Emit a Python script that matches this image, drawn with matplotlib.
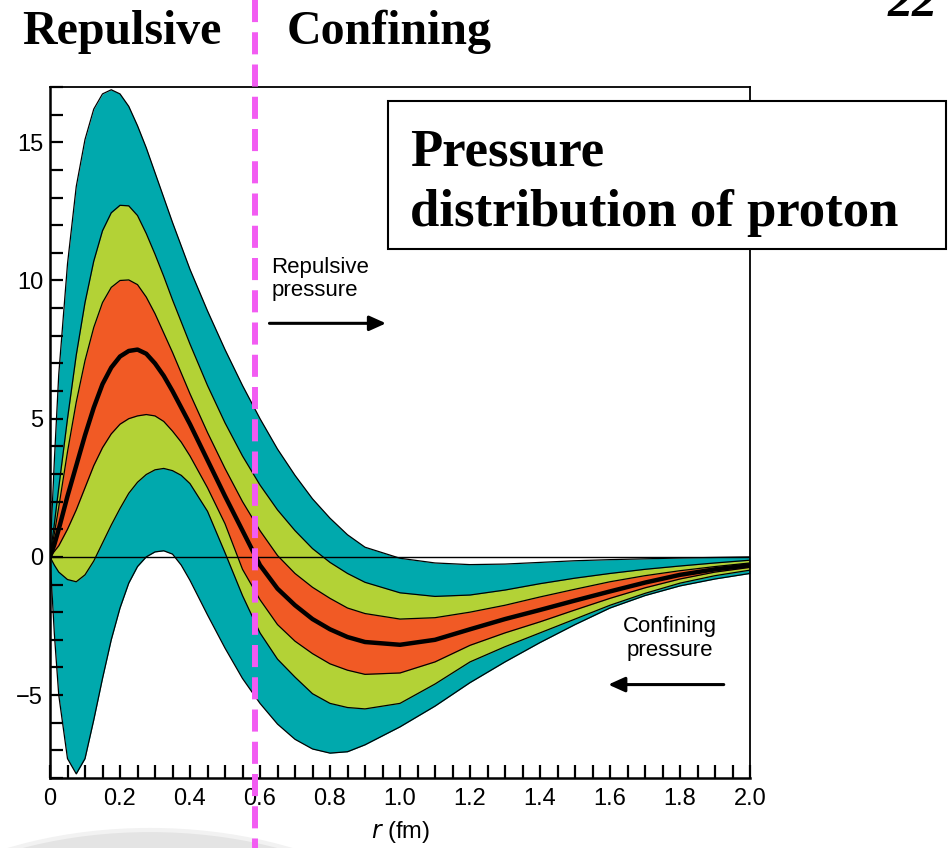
import numpy as np
import matplotlib
matplotlib.use("Agg")
import matplotlib.pyplot as plt
from matplotlib.patches import Rectangle, Ellipse

# radius (fm)
r = [0, 0.0125, 0.025, 0.05, 0.075, 0.1, 0.125, 0.15, 0.175, 0.2, 0.225, 0.25, 0.275,
     0.3, 0.325, 0.35, 0.375, 0.4, 0.45, 0.5, 0.55, 0.6, 0.65, 0.7, 0.75, 0.8, 0.85,
     0.9, 1.0, 1.1, 1.2, 1.3, 1.4, 1.5, 1.6, 1.7, 1.8, 1.9, 2.0]

# band edges (outer -> inner), units of the y axis
upper3 = [0, 3.5, 6.6, 10.6, 13.4, 15.1, 16.2, 16.75, 16.9, 16.75, 16.3, 15.6, 14.8,
          13.9, 13.0, 12.1, 11.25, 10.4, 8.9, 7.5, 6.2, 5.0, 3.9, 2.95, 2.1, 1.4, 0.8,
          0.35, -0.05, -0.22, -0.28, -0.26, -0.2, -0.14, -0.1, -0.07, -0.04, -0.02, 0.0]
upper2 = [0, 1.2, 2.5, 5.0, 7.3, 9.2, 10.7, 11.8, 12.45, 12.72, 12.7, 12.35, 11.7,
          10.95, 10.15, 9.3, 8.5, 7.7, 6.2, 4.85, 3.65, 2.6, 1.7, 0.95, 0.3, -0.2, -0.6,
          -0.92, -1.3, -1.43, -1.38, -1.2, -0.97, -0.77, -0.6, -0.45, -0.33, -0.22, -0.12]
upper1 = [0, 0.85, 1.8, 3.8, 5.6, 7.1, 8.3, 9.2, 9.75, 10.0, 10.02, 9.85, 9.4,
          8.8, 8.1, 7.4, 6.65, 5.9, 4.5, 3.2, 2.0, 0.95, 0.05, -0.6, -1.1, -1.5, -1.85,
          -2.05, -2.25, -2.2, -2.0, -1.75, -1.45, -1.17, -0.9, -0.68, -0.5, -0.35, -0.22]
centre = [0, 0.45, 1.0, 2.2, 3.3, 4.4, 5.4, 6.25, 6.85, 7.25, 7.45, 7.5, 7.35,
          7.0, 6.55, 6.0, 5.4, 4.8, 3.5, 2.2, 0.95, -0.3, -1.15, -1.75, -2.25, -2.62, -2.9,
          -3.08, -3.18, -3.0, -2.62, -2.25, -1.92, -1.58, -1.25, -0.93, -0.65, -0.45, -0.3]
lower1 = [0, 0.2, 0.4, 1.0, 1.7, 2.5, 3.3, 3.95, 4.45, 4.8, 5.0, 5.1, 5.15,
          5.1, 4.9, 4.55, 4.15, 3.65, 2.5, 1.2, -0.45, -1.55, -2.45, -3.05, -3.5, -3.87, -4.1,
          -4.25, -4.2, -3.8, -3.2, -2.75, -2.35, -1.92, -1.5, -1.12, -0.8, -0.55, -0.38]
lower2 = [0, -0.3, -0.55, -0.82, -0.9, -0.65, -0.15, 0.5, 1.15, 1.75, 2.3, 2.7, 2.98,
          3.15, 3.2, 3.12, 2.95, 2.65, 1.65, 0.15, -1.4, -2.75, -3.7, -4.35, -4.95, -5.3, -5.45,
          -5.5, -5.3, -4.6, -3.8, -3.25, -2.75, -2.25, -1.75, -1.32, -0.95, -0.68, -0.48]
lower3 = [0, -2.8, -5.0, -7.3, -7.85, -7.3, -5.9, -4.4, -3.0, -1.85, -0.95, -0.35, 0.0,
          0.18, 0.22, 0.1, -0.3, -0.85, -2.1, -3.3, -4.4, -5.3, -6.05, -6.6, -6.95, -7.1, -7.05,
          -6.8, -6.15, -5.4, -4.55, -3.8, -3.1, -2.45, -1.85, -1.4, -1.05, -0.8, -0.6]

teal = "#00a9ad"
green = "#b3d236"
orange = "#f15a25"
magenta = "#f25cf2"

plt.rcParams["font.family"] = ["Liberation Sans", "DejaVu Sans"]

W, H = 948, 848
def fpx(x, y):
    return x / W, 1 - y / H

fig = plt.figure(figsize=(W / 100, H / 100), dpi=100)

# light grey slide decoration at bottom left
fig.patches.append(Ellipse(fpx(150, 1010), 620 / W, 360 / H, transform=fig.transFigure,
                           facecolor="#e4e4e4", edgecolor="#f2f2f2", lw=3, zorder=0))

ax = fig.add_axes([50 / W, 1 - 778 / H, 700 / W, 691 / H])
ax.fill_between(r, lower3, upper3, color=teal, lw=0)
ax.fill_between(r, lower2, upper2, color=green, lw=0)
ax.fill_between(r, lower1, upper1, color=orange, lw=0)
for edge in [upper3, upper2, upper1, lower1, lower2, lower3]:
    ax.plot(r, edge, color="black", lw=0.9, solid_joinstyle="round")
ax.plot(r, centre, color="black", lw=3.2, solid_joinstyle="round")
ax.axhline(0, color="black", lw=1.0)

ax.set_xlim(0, 2.0)
ax.set_ylim(-8, 17)
ax.set_xticks(np.arange(0, 2.01, 0.2))
ax.set_xticklabels(["0", "0.2", "0.4", "0.6", "0.8", "1.0", "1.2", "1.4", "1.6", "1.8", "2.0"])
ax.set_xticks(np.arange(0, 2.01, 0.05), minor=True)
ax.set_yticks([-5, 0, 5, 10, 15])
ax.set_yticklabels(["\u22125", "0", "5", "10", "15"])
ax.set_yticks(np.arange(-8, 17.1, 1), minor=True)
ax.tick_params(which="both", direction="in", length=9.5, width=1.6, labelsize=17,
               top=False, right=False)
ax.tick_params(axis="x", pad=7)
ax.tick_params(axis="y", pad=5)
for s in ["left", "bottom"]:
    ax.spines[s].set_linewidth(1.8)
for s in ["top", "right"]:
    ax.spines[s].set_linewidth(1.3)
ax.set_xlabel("$\\it{r}$ (fm)", fontsize=17, labelpad=7)

ax.text(0.632, 10.85, "Repulsive\npressure", fontsize=16, va="top", ha="left",
        linespacing=1.15)
ax.annotate("", xy=(0.96, 8.45), xytext=(0.627, 8.45),
            arrowprops=dict(arrowstyle="-|>,head_length=1.0,head_width=0.45", lw=2.2,
                            color="black", shrinkA=0, shrinkB=0))
ax.text(1.772, -2.15, "Confining\npressure", fontsize=16, va="top", ha="center",
        linespacing=1.15)
ax.annotate("", xy=(1.595, -4.62), xytext=(1.925, -4.62),
            arrowprops=dict(arrowstyle="-|>,head_length=1.0,head_width=0.45", lw=2.2,
                            color="black", shrinkA=0, shrinkB=0))

# slide overlay: dashed divider, headings, title box, page number
serif = ["Liberation Serif", "DejaVu Serif"]
fig.add_artist(plt.Line2D([255 / W, 255 / W], [1.0, 0.0], color=magenta, lw=4.3,
                          dashes=(3.7, 1.7), zorder=10))
fig.text(*fpx(22, 44), "Repulsive", family=serif, weight="bold", fontsize=34.5,
         va="baseline", ha="left")
fig.text(*fpx(287, 44), "Confining", family=serif, weight="bold", fontsize=34.5,
         va="baseline", ha="left")
fig.patches.append(Rectangle(fpx(388, 249), 558 / W, 148 / H, transform=fig.transFigure,
                             facecolor="white", edgecolor="black", lw=1.5, zorder=5))
fig.text(*fpx(410, 165), "Pressure", family=serif, weight="bold", fontsize=38,
         va="baseline", ha="left", zorder=6)
fig.text(*fpx(410, 226), "distribution of proton", family=serif, weight="bold",
         fontsize=38, va="baseline", ha="left", zorder=6)
fig.text(*fpx(888, 16), "22", family=serif, style="italic", weight="bold", fontsize=36,
         va="baseline", ha="left")

fig.savefig("out.png", dpi=100)
